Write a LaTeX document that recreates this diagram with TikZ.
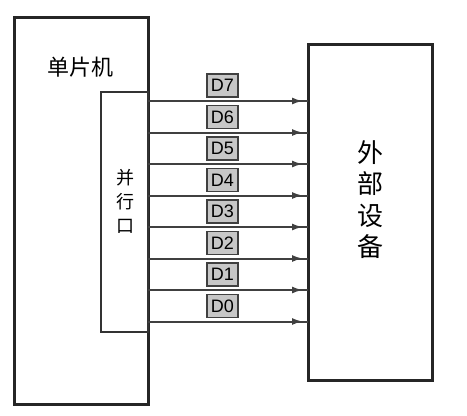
\documentclass[tikz,border=0pt]{standalone}
\usepackage{fontspec}
\setmainfont{Liberation Sans}
\newfontfamily\cjk{Noto Sans CJK SC}
\usetikzlibrary{arrows.meta,positioning,calc,decorations.markings}

\begin{document}
\begin{tikzpicture}[x=1pt,y=-1pt,
  block/.style={draw=black!85,line width=3pt,inner sep=0pt},
  portbox/.style={draw=black!80,line width=2pt,fill=white,inner sep=0pt},
  lbl/.style={draw=black!75,fill=black!22,line width=1.2pt,minimum width=31pt,minimum height=23pt,inner sep=0pt,font=\fontsize{18}{18}\selectfont},
  bus/.style={draw=black!75,line width=2pt,postaction={decorate},
    decoration={markings,mark=at position -5pt with {\arrow{Latex[length=11pt,width=7pt]}}}}]
\useasboundingbox (0,0) rectangle (467,416);
% main blocks
\node[block,minimum width=134pt,minimum height=387pt] (mcu) at (81,210.5) {};
\node[portbox,minimum width=47pt,minimum height=240pt] (port) at (124.5,212) {};
\node[block,minimum width=124pt,minimum height=336pt] (dev) at (370,212) {};
% texts
\node[font=\cjk\fontsize{22}{22}\selectfont] (mcuname) at (81,67) {单片机};
\node[font=\cjk\fontsize{18}{24}\selectfont,align=center] (portname) at (125,201) {并\\行\\口};
\node[font=\cjk\fontsize{26}{31.5}\selectfont,align=center] (devname) at (370,199.5) {外\\部\\设\\备};
% data lines
\foreach \i/\y in {7/101,6/132.5,5/164,4/195.5,3/227,2/258.5,1/290,0/321.5} {
  \coordinate (p\i) at (148,\y);
  \coordinate (d\i) at (308,\y);
  \draw[bus] (p\i) -- (d\i);
  \node[lbl] (l\i) at (222.5,\y-15.5) {D\i};
}
\end{tikzpicture}
\end{document}
